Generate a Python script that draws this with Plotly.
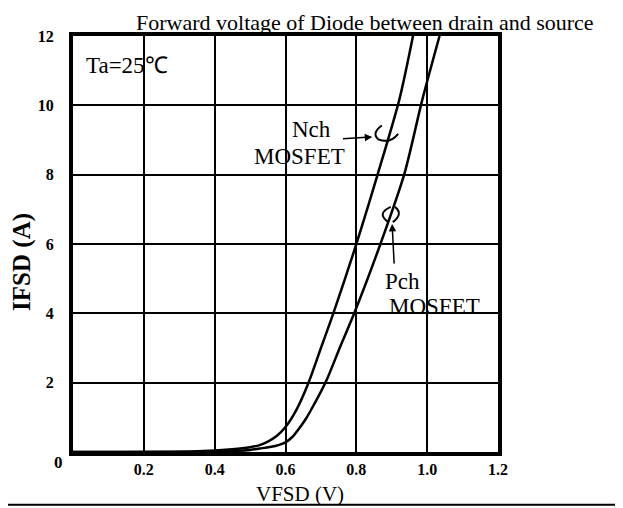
import plotly.graph_objects as go

# ---- data ----
nch_v = [0.0, 0.35, 0.45, 0.50, 0.527, 0.55, 0.575, 0.60, 0.63, 0.665, 0.70, 0.735, 0.80, 0.86, 0.921, 0.96]
nch_i = [0.0, 0.02, 0.08, 0.14, 0.20, 0.30, 0.46, 0.72, 1.20, 2.00, 3.00, 4.00, 6.00, 8.00, 10.15, 12.0]
pch_v = [0.0, 0.40, 0.50, 0.527, 0.56, 0.58, 0.60, 0.62, 0.64, 0.659, 0.68, 0.70, 0.718, 0.755, 0.794, 0.868, 0.935, 0.986, 1.035]
pch_i = [0.0, 0.01, 0.06, 0.10, 0.15, 0.20, 0.28, 0.44, 0.70, 0.98, 1.36, 1.74, 2.12, 3.05, 4.00, 6.00, 8.00, 10.15, 12.0]

x_ticks = [0.2, 0.4, 0.6, 0.8, 1.0, 1.2]
x_tick_labels = ["0.2", "0.4", "0.6", "0.8", "1.0", "1.2"]
y_ticks = [2, 4, 6, 8, 10, 12]
y_tick_labels = ["2", "4", "6", "8", "10", "12"]

title_text = "Forward voltage of Diode between drain and source"
x_title = "VFSD (V)"
y_title = "IFSD (A)"
temp_text = "Ta=25℃"

SERIF = "Liberation Serif"
BLACK = "black"

fig = go.Figure()
fig.add_trace(go.Scatter(x=nch_v, y=nch_i, mode="lines", name="Nch MOSFET",
                         line=dict(color=BLACK, width=2.5, shape="spline", smoothing=0.8)))
fig.add_trace(go.Scatter(x=pch_v, y=pch_i, mode="lines", name="Pch MOSFET",
                         line=dict(color=BLACK, width=2.5, shape="spline", smoothing=0.8)))

axis_common = dict(showgrid=True, gridcolor=BLACK, gridwidth=2,
                   showline=True, linecolor=BLACK, linewidth=4, mirror=True,
                   zeroline=False, ticks="")

# the page body adds an 8px offset, so the figure is 8px smaller and margins shifted
fig.update_layout(
    width=615, height=500,
    margin=dict(l=65, r=125, t=28, b=56),
    paper_bgcolor="white", plot_bgcolor="white",
    showlegend=False,
    xaxis=dict(range=[0, 1.2], tickvals=x_ticks, ticktext=x_tick_labels,
               tickfont=dict(family=SERIF, size=16, color=BLACK, weight="bold"),
               **axis_common),
    yaxis=dict(range=[0, 12], tickvals=y_ticks, ticktext=y_tick_labels,
               ticklabelstandoff=12,
               tickfont=dict(family=SERIF, size=16, color=BLACK, weight="bold"),
               **axis_common),
)

anns = [
    dict(text=title_text, xref="paper", yref="paper", x=0.687, y=1.066,
         showarrow=False, font=dict(family=SERIF, size=22, color=BLACK),
         xanchor="center", yanchor="top", borderpad=0),
    dict(text=x_title, xref="paper", yref="paper", x=0.534, y=-0.1334,
         showarrow=False, font=dict(family=SERIF, size=21, color=BLACK),
         xanchor="center", yanchor="bottom", borderpad=0),
    dict(text=y_title, xref="paper", yref="paper", x=-0.12, y=0.457, textangle=-90,
         showarrow=False, font=dict(family=SERIF, size=25, color=BLACK, weight="bold"),
         xanchor="center", yanchor="middle"),
    dict(text="0", xref="paper", yref="paper", x=-0.035, y=-0.025,
         showarrow=False, font=dict(family=SERIF, size=17, color=BLACK, weight="bold"),
         xanchor="center", yanchor="middle"),
    dict(text=temp_text, x=0.152, y=11.14, showarrow=False,
         font=dict(family=SERIF, size=23, color=BLACK)),
    dict(text="Nch", x=0.673, y=9.29, showarrow=False,
         font=dict(family=SERIF, size=23, color=BLACK)),
    dict(text="MOSFET", x=0.639, y=8.51, showarrow=False,
         font=dict(family=SERIF, size=23, color=BLACK)),
    dict(text="Pch", x=0.930, y=4.93, showarrow=False,
         font=dict(family=SERIF, size=23, color=BLACK)),
    dict(text="MOSFET", x=1.020, y=4.20, showarrow=False,
         font=dict(family=SERIF, size=23, color=BLACK)),
    # arrows
    dict(text="", x=0.845, y=9.09, ax=0.758, ay=9.03, axref="x", ayref="y",
         showarrow=True, arrowhead=2, arrowsize=1, arrowwidth=1.5, arrowcolor=BLACK),
    dict(text="", x=0.901, y=6.58, ax=0.907, ay=5.39, axref="x", ayref="y",
         showarrow=True, arrowhead=2, arrowsize=1, arrowwidth=1.5, arrowcolor=BLACK),
]
fig.update_layout(annotations=anns)

shapes = [
    # curve markers (loop symbols)
    dict(type="path", path="M 0.872,9.42 Q 0.842,9.2 0.862,9.02 Q 0.895,8.88 0.918,9.18",
         line=dict(color=BLACK, width=2)),
    dict(type="path", path="M 0.897,7.07 Q 0.855,6.87 0.891,6.63",
         line=dict(color=BLACK, width=2)),
    dict(type="path", path="M 0.909,7.07 Q 0.934,6.87 0.903,6.63",
         line=dict(color=BLACK, width=2)),
    # bottom border line of the scanned page
    dict(type="line", xref="paper", yref="paper", x0=-0.2, x1=1.3, y0=-0.127, y1=-0.127,
         line=dict(color=BLACK, width=2)),
]
fig.update_layout(shapes=shapes)

fig.write_html("out.html")
